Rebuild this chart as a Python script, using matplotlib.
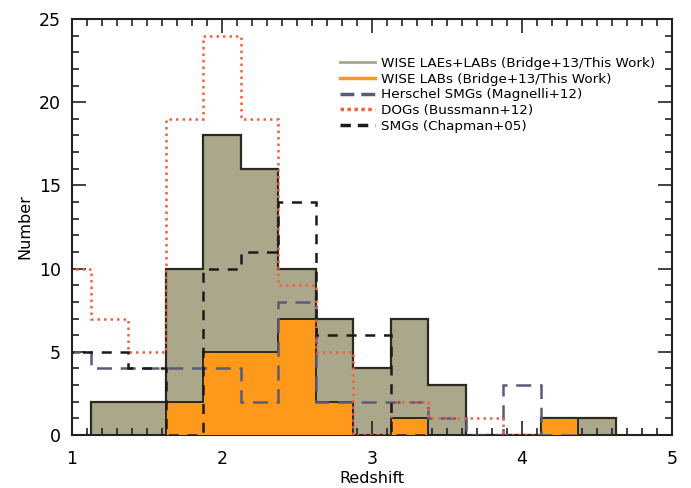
import matplotlib
matplotlib.use("Agg")
import matplotlib.pyplot as plt
from matplotlib.lines import Line2D
import numpy as np

# ---- data ----
wise_start = 1.125
bin_width = 0.25
wise_all = [2, 2, 10, 18, 16, 10, 7, 4, 7, 3, 0, 0, 1, 1]
wise_labs = [0, 0, 2, 5, 5, 7, 2, 0, 1, 0, 0, 0, 1, 0]

other_start = 0.875
dogs = [10, 7, 5, 19, 24, 19, 9, 5, 0, 2, 1, 1, 0]
chapman = [5, 5, 4, 0, 10, 11, 14, 6, 6, 0]
herschel = [5, 4, 4, 4, 4, 2, 8, 2, 2, 2, 1, 0, 3, 0]

labels = ["WISE LAEs+LABs (Bridge+13/This Work)",
          "WISE LABs (Bridge+13/This Work)",
          "Herschel SMGs (Magnelli+12)",
          "DOGs (Bussmann+12)",
          "SMGs (Chapman+05)"]

def edges(start, n):
    return start + bin_width * np.arange(n + 1)

c_grey = "#aba78b"
c_orange = "#ff991c"
c_hers = "#585c78"
c_dogs = "#f2603f"
c_chap = "#1a1a1a"

fig = plt.figure(figsize=(6.91, 4.88), dpi=100)
ax = fig.add_axes([72/691, 1 - 435/488, 600/691, 416/488])

e1 = edges(wise_start, len(wise_all))
ax.stairs(wise_all, e1, fill=True, color=c_grey, zorder=1)
ax.stairs(wise_all, e1, color="#2a2a20", lw=1.6, zorder=2)
ax.stairs(wise_labs, e1, fill=True, color=c_orange, zorder=3)
ax.stairs(wise_labs, e1, color="#2a2a20", lw=1.4, zorder=4)

ax.stairs(herschel, edges(other_start, len(herschel)), color=c_hers,
          lw=1.8, linestyle=(0, (6, 3.5)), zorder=5)
ax.stairs(dogs, edges(other_start, len(dogs)), color=c_dogs,
          lw=1.8, linestyle=(0, (1, 1.6)), zorder=6)
ax.stairs(chapman, edges(other_start, len(chapman)), color=c_chap,
          lw=1.8, linestyle=(0, (4, 3.5)), zorder=7)

ax.set_xlim(1, 5)
ax.set_ylim(0, 25)
ax.set_xticks([1, 2, 3, 4, 5])
ax.set_yticks([0, 5, 10, 15, 20, 25])
ax.set_xticks(np.arange(1, 5.0001, 0.1), minor=True)
ax.set_yticks(np.arange(0, 25.001, 1), minor=True)
ax.tick_params(which="both", direction="in", top=True, right=True,
               labelsize=12.5, width=1.2, color="#222222")
ax.tick_params(which="major", length=10)
ax.tick_params(axis="x", which="major", pad=11)
ax.tick_params(axis="y", which="major", pad=8)
ax.tick_params(which="minor", length=5)
for s in ax.spines.values():
    s.set_linewidth(1.5)
    s.set_color("#222222")

ax.set_xlabel("Redshift", fontsize=11.5, labelpad=2)
ax.set_ylabel("Number", fontsize=11.5, labelpad=5)

handles = [Line2D([], [], color=c_grey, lw=2),
           Line2D([], [], color=c_orange, lw=2.5),
           Line2D([], [], color=c_hers, lw=2.5, linestyle=(0, (4, 2))),
           Line2D([], [], color=c_dogs, lw=2.5, linestyle=(0, (1, 1))),
           Line2D([], [], color=c_chap, lw=2.5, linestyle=(0, (3, 2)))]
ax.legend(handles, labels, loc="upper left", bbox_to_anchor=(0.437, 0.922),
          frameon=False, fontsize=9.7, handlelength=2.6, handletextpad=0.5,
          labelspacing=0.2, borderaxespad=0)

fig.savefig("out.png", dpi=100)
